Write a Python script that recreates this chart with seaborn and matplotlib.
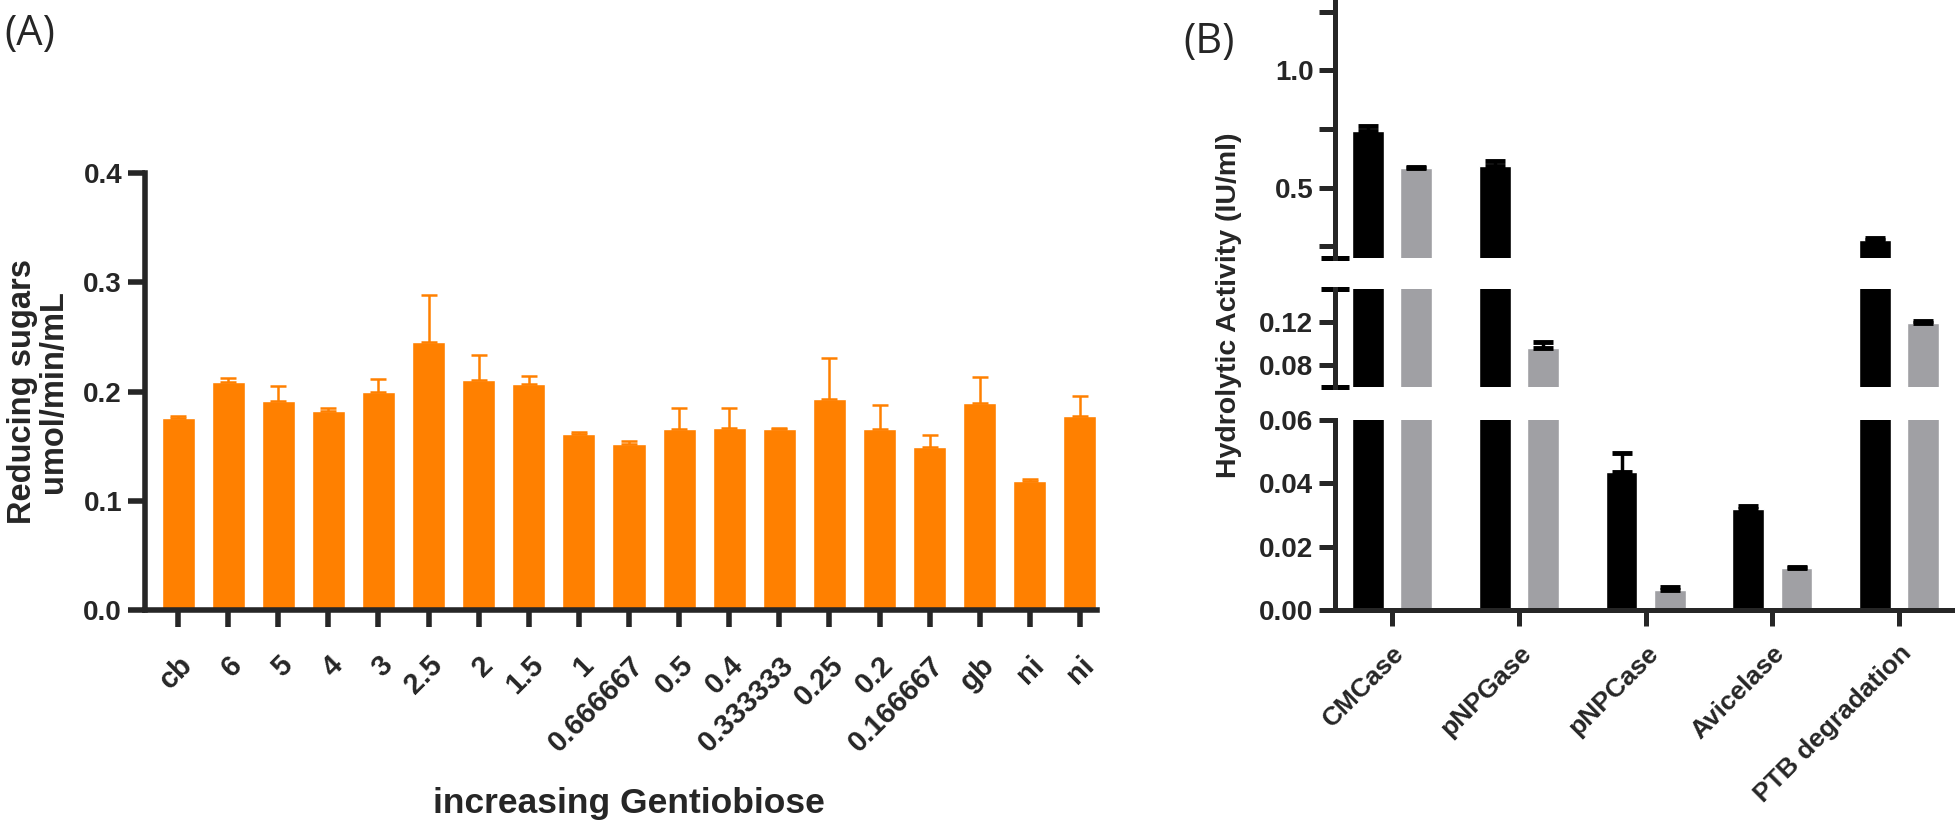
import numpy as np
import pandas as pd
import matplotlib
matplotlib.use("Agg")
import matplotlib.pyplot as plt
import seaborn as sns

sns.set_theme(style="ticks")
plt.rcParams["font.family"] = ["Liberation Sans", "DejaVu Sans"]

# --- panel A: reducing sugars vs gentiobiose ---
gentio_labels = ["cb", "6", "5", "4", "3", "2.5", "2", "1.5", "1", "0.666667",
                 "0.5", "0.4", "0.333333", "0.25", "0.2", "0.166667", "gb", "ni", "ni"]
sugar_mean = [0.1755, 0.209, 0.191, 0.182, 0.200, 0.245, 0.2105, 0.207, 0.161, 0.1515,
              0.166, 0.1665, 0.1655, 0.193, 0.1655, 0.149, 0.1895, 0.1185, 0.1775]
sugar_err = [0.0025, 0.0035, 0.014, 0.003, 0.0115, 0.043, 0.023, 0.007, 0.002, 0.003,
             0.019, 0.018, 0.0015, 0.038, 0.0225, 0.011, 0.0235, 0.0015, 0.0185]

# --- panel B: hydrolytic activity ---
assays = ["CMCase", "pNPGase", "pNPCase", "Avicelase", "PTB degradation"]
series = ["s1", "s2"]
act_s1 = [0.741, 0.592, 0.0435, 0.0318, 0.278]
err_s1 = [0.020, 0.020, 0.006, 0.0012, 0.007]
act_s2 = [0.585, 0.0955, 0.0062, 0.0132, 0.1185]
err_s2 = [0.004, 0.006, 0.0012, 0.0004, 0.002]

ORANGE = "#FF8000"
GREY = "#A0A0A4"
LW = 4.0

W, H = 1955, 824
fig = plt.figure(figsize=(W / 100, H / 100), dpi=100)


def fx(px):
    return px / W


def fy(px):
    return 1 - px / H


# ---------- panel A ----------
axA = fig.add_axes([fx(145), fy(610), fx(1097) - fx(145), fy(173) - fy(610)])
dfA = pd.DataFrame({"pos": range(len(sugar_mean)), "val": sugar_mean})
sns.barplot(data=dfA, x="pos", y="val", color=ORANGE, saturation=1, width=0.66,
            errorbar=None, ax=axA)
for cont in list(axA.containers):
    xs = [p.get_x() + p.get_width() / 2 for p in cont]
    axA.errorbar(xs, sugar_mean, yerr=[np.zeros(len(xs)), sugar_err], fmt="none",
                 ecolor=ORANGE, elinewidth=1.8, capsize=6, capthick=1.8)
axA.set_xlim(-0.66, 18.34)
axA.set_ylim(0, 0.4)
axA.set_yticks([0.0, 0.1, 0.2, 0.3, 0.4])
axA.set_yticklabels(["0.0", "0.1", "0.2", "0.3", "0.4"])
axA.set_xticks(range(len(gentio_labels)))
axA.set_xticklabels(gentio_labels, rotation=45, ha="right", rotation_mode="anchor")
for s in ["top", "right"]:
    axA.spines[s].set_visible(False)
for s in ["left", "bottom"]:
    axA.spines[s].set_linewidth(LW)
axA.tick_params(width=LW, length=12.5)
axA.tick_params(axis="y", labelsize=20, pad=4)
axA.tick_params(axis="x", labelsize=21, pad=17)
for t in axA.get_xticklabels() + axA.get_yticklabels():
    t.set_fontweight("bold")
axA.set_ylabel("Reducing sugars\numol/min/mL", fontsize=23.5, fontweight="bold",
               linespacing=1.0, labelpad=10)
axA.set_xlabel("")
fig.text(fx(629), fy(813), "increasing Gentiobiose", ha="center", va="baseline",
         fontsize=25.5, fontweight="bold")

# ---------- panel B (broken axis) ----------
dfB = pd.DataFrame({
    "assay": assays * 2,
    "series": [series[0]] * len(assays) + [series[1]] * len(assays),
    "val": act_s1 + act_s2,
})
errs = [err_s1, err_s2]
means = [act_s1, act_s2]

left_b = fx(1335)
width_b = 1 - left_b
axes_b = [
    fig.add_axes([left_b, fy(258), width_b, fy(0) - fy(258)]),
    fig.add_axes([left_b, fy(387), width_b, fy(289) - fy(387)]),
    fig.add_axes([left_b, fy(610), width_b, fy(420) - fy(610)]),
]
limits = [(0.2, 1.3), (0.06, 0.15), (0.0, 0.06)]
ticks = [[0.25, 0.5, 0.75, 1.0, 1.25], [0.08, 0.12], [0.0, 0.02, 0.04, 0.06]]
tlabels = [["", "0.5", "", "1.0", ""], ["0.08", "0.12"], ["0.00", "0.02", "0.04", "0.06"]]

for k, ax in enumerate(axes_b):
    sns.barplot(data=dfB, x="assay", y="val", hue="series", hue_order=series,
                palette=["black", GREY], saturation=1, width=0.76, gap=0.34,
                errorbar=None, legend=False, ax=ax)
    for cont, m, e in zip(list(ax.containers), means, errs):
        xs = [p.get_x() + p.get_width() / 2 for p in cont]
        ax.errorbar(xs, m, yerr=[np.zeros(len(xs)), e], fmt="none", ecolor="black",
                    elinewidth=2.5, capsize=7, capthick=3.5)
    ax.set_xlim(-0.45, 4.44)
    ax.set_ylim(*limits[k])
    ax.set_yticks(ticks[k])
    ax.set_yticklabels(tlabels[k])
    ax.set_ylabel("")
    ax.set_xlabel("")
    for s in ["top", "right"]:
        ax.spines[s].set_visible(False)
    ax.spines["left"].set_linewidth(3.6)
    ax.tick_params(axis="y", width=3.6, length=11.5, labelsize=20, pad=4)
    for t in ax.get_yticklabels():
        t.set_fontweight("bold")
    if k < 2:
        ax.spines["bottom"].set_visible(False)
        ax.tick_params(axis="x", bottom=False, labelbottom=False)
    else:
        ax.spines["bottom"].set_linewidth(3.6)
        ax.tick_params(axis="x", width=3.6, length=11.5, labelsize=19, pad=11)
        ax.set_xticks(range(len(assays)))
        ax.set_xticklabels(assays, rotation=45, ha="right", rotation_mode="anchor",
                           fontweight="bold")

# caps at the ends of the broken segments
for ax, ends in [(axes_b[0], [0]), (axes_b[1], [0, 1])]:
    for e in ends:
        ax.plot([0], [e], transform=ax.transAxes, marker="_", markersize=20,
                mew=3.6, color="black", clip_on=False)

fig.text(fx(1229), fy(305), "Hydrolytic Activity (IU/ml)", rotation=90, ha="center",
         va="center", fontsize=20.5, fontweight="bold")

fig.text(fx(4), fy(13), "(A)", fontsize=30, va="top", ha="left",
         family=["Open Sans", "DejaVu Sans"])
fig.text(fx(1183), fy(21), "(B)", fontsize=30, va="top", ha="left",
         family=["Open Sans", "DejaVu Sans"])

fig.savefig("out.png", dpi=100)
